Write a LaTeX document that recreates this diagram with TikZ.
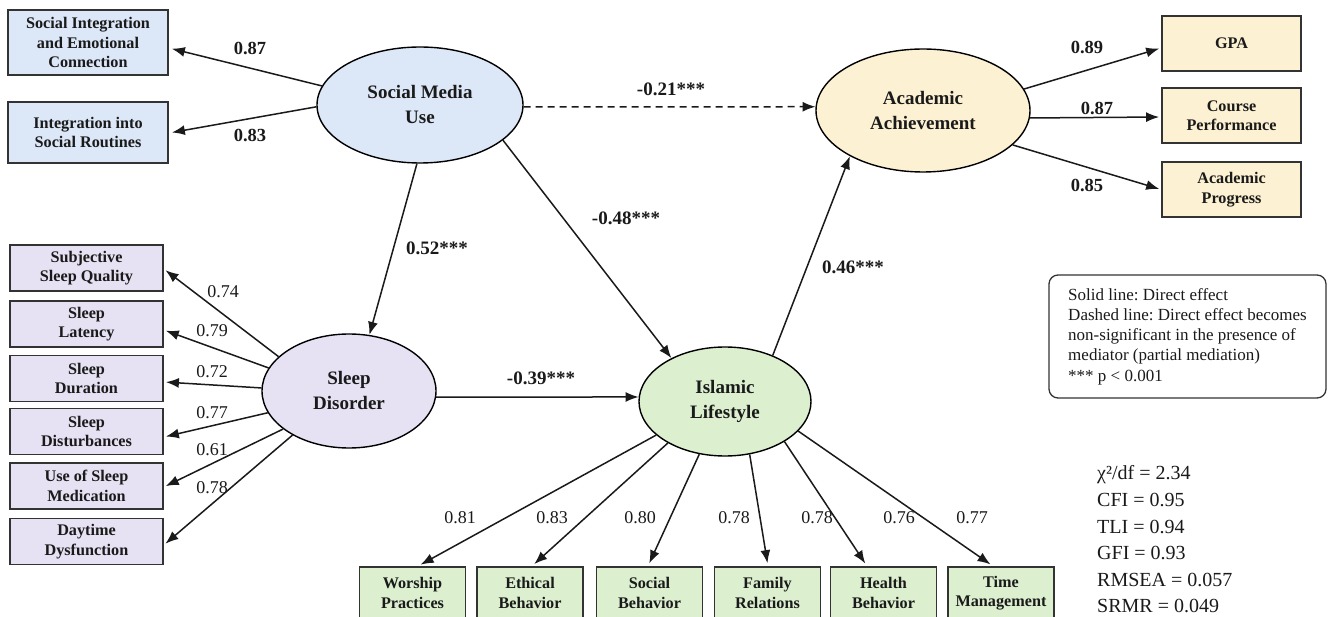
\documentclass[tikz,border=0pt]{standalone}
\usepackage{fontspec}
\setmainfont{Liberation Serif}
\usetikzlibrary{arrows.meta,shapes.geometric}
\frenchspacing
\newcommand\dgbox{\fontsize{16.2}{19.5}\selectfont\bfseries}
\newcommand\dglat{\fontsize{19}{25}\selectfont\bfseries}
\newcommand\dgpath{\fontsize{19}{22}\selectfont\bfseries}
\newcommand\dgloadb{\fontsize{18.5}{21}\selectfont\bfseries}
\newcommand\dgload{\fontsize{18}{21}\selectfont}
\newcommand\dgleg{\fontsize{17}{20.2}\selectfont}
\newcommand\dgfit{\fontsize{20}{26.6}\selectfont}
\definecolor{bluef}{HTML}{DCE7F7}
\definecolor{yellowf}{HTML}{FCF1D2}
\definecolor{purplef}{HTML}{E6E1F3}
\definecolor{greenf}{HTML}{DCF0D0}
\definecolor{boxline}{HTML}{333333}
\definecolor{inkc}{HTML}{1A1A1A}
\tikzset{
  obs/.style={draw=boxline, line width=1.8pt, align=center, font=\dgbox, inner sep=2pt, text=inkc},
  lat/.style={ellipse, draw=black, line width=1.4pt, align=center, font=\dglat, inner sep=0pt, text=inkc},
  arr/.style={-{Latex[length=13pt,width=10pt]}, line width=1.5pt, draw=inkc},
  lblb/.style={font=\dgloadb, inner sep=1pt, text=inkc},
  lbl/.style={font=\dgload, inner sep=1pt, text=inkc},
  plbl/.style={font=\dgpath, inner sep=1pt, text=inkc},
}
\begin{document}
\begin{tikzpicture}[x=1pt,y=-1pt]
\useasboundingbox (0,0) rectangle (1331,617);
\clip (0,0) rectangle (1331,617);
\fill[white] (0,0) rectangle (1331,617);

% latent variables
\node[lat, fill=bluef, minimum width=206pt, minimum height=116pt] (smu) at (420,105) {Social Media\\Use};
\node[lat, fill=yellowf, minimum width=214pt, minimum height=123pt] (aa) at (923,110.5) {Academic\\Achievement};
\node[lat, fill=purplef, minimum width=174pt, minimum height=114pt] (sd) at (349,391) {Sleep\\Disorder};
\node[lat, fill=greenf, minimum width=172pt, minimum height=109pt] (il) at (725,401.5) {Islamic\\Lifestyle};

% social media indicators
\node[obs, fill=bluef, minimum width=160pt, minimum height=65pt] (sie) at (88,42.5) {Social Integration\\and Emotional\\Connection};
\node[obs, fill=bluef, minimum width=160pt, minimum height=61pt] (isr) at (88,132.5) {Integration into\\Social Routines};

% academic indicators
\node[obs, fill=yellowf, minimum width=139pt, minimum height=55pt] (gpa) at (1231.5,43.5) {GPA};
\node[obs, fill=yellowf, minimum width=139pt, minimum height=55pt] (cp) at (1231.5,115.5) {Course\\Performance};
\node[obs, fill=yellowf, minimum width=139pt, minimum height=55pt] (ap) at (1231.5,189.5) {Academic\\Progress};

% sleep indicators
\node[obs, fill=purplef, minimum width=153pt, minimum height=46pt] (s1) at (86.5,268) {Subjective\\Sleep Quality};
\node[obs, fill=purplef, minimum width=153pt, minimum height=46pt] (s2) at (86.5,324) {Sleep\\Latency};
\node[obs, fill=purplef, minimum width=153pt, minimum height=46pt] (s3) at (86.5,378.5) {Sleep\\Duration};
\node[obs, fill=purplef, minimum width=153pt, minimum height=46pt] (s4) at (86.5,431.5) {Sleep\\Disturbances};
\node[obs, fill=purplef, minimum width=153pt, minimum height=46pt] (s5) at (86.5,486) {Use of Sleep\\Medication};
\node[obs, fill=purplef, minimum width=153pt, minimum height=46pt] (s6) at (86.5,541.5) {Daytime\\Dysfunction};

% islamic lifestyle indicators
\node[obs, fill=greenf, minimum width=106pt, minimum height=52pt] (b1) at (412.5,593) {Worship\\Practices};
\node[obs, fill=greenf, minimum width=106pt, minimum height=52pt] (b2) at (530,593) {Ethical\\Behavior};
\node[obs, fill=greenf, minimum width=106pt, minimum height=52pt] (b3) at (649.5,593) {Social\\Behavior};
\node[obs, fill=greenf, minimum width=106pt, minimum height=52pt] (b4) at (767.5,593) {Family\\Relations};
\node[obs, fill=greenf, minimum width=106pt, minimum height=52pt] (b5) at (883.5,593) {Health\\Behavior};
\node[obs, fill=greenf, minimum width=106pt, minimum height=52pt] (b6) at (1001,593) {Time\\Management};

% structural paths
\draw[arr, dash pattern=on 7pt off 5pt] (smu.-1) -- (aa.178.5);
\draw[arr] (smu.-93) -- (sd.70);
\draw[arr] (smu.-23) -- (il.141.5);
\draw[arr] (sd.-4) -- (il.177);
\draw[arr] (il.44.7) -- (aa.212);

% loadings
\draw[arr, shorten >=3pt] (smu.169) -- ([yshift=-5.5pt]sie.east);
\draw[arr, shorten >=3pt] (smu.181) -- ([yshift=-0.5pt]isr.east);
\draw[arr, shorten >=2pt] (aa.12.4) -- ([yshift=-4.5pt]gpa.west);
\draw[arr, shorten >=2pt] (aa.-4) -- ([yshift=-1.5pt]cp.west);
\draw[arr, shorten >=2pt] (aa.-21.5) -- (ap.west);
\draw[arr, shorten >=2pt] (sd.154.7) -- ([yshift=-1pt]s1.east);
\draw[arr, shorten >=2pt] (sd.164.1) -- ([yshift=-6pt]s2.east);
\draw[arr, shorten >=2pt] (sd.178) -- ([yshift=-3.5pt]s3.east);
\draw[arr, shorten >=2pt] (sd.-165) -- ([yshift=-5.5pt]s4.east);
\draw[arr, shorten >=2pt] (sd.-150.5) -- ([yshift=-1pt]s5.east);
\draw[arr, shorten >=2pt] (sd.-142) -- ([yshift=-3.5pt]s6.east);
\draw[arr, shorten >=3pt] (il.-154.7) -- ([xshift=5.5pt]b1.north);
\draw[arr, shorten >=3pt] (il.-144) -- ([xshift=2pt]b2.north);
\draw[arr, shorten >=3pt] (il.-116.8) -- ([xshift=-1.5pt]b3.north);
\draw[arr, shorten >=3pt] (il.-65.4) -- ([xshift=0.5pt]b4.north);
\draw[arr, shorten >=3pt] (il.-34.2) -- ([xshift=-16.5pt]b5.north);
\draw[arr, shorten >=3pt] (il.-22) -- ([xshift=-8pt]b6.north);

% path labels
\node[plbl] (p21) at (671,89) {-0.21***};
\node[plbl] (p52) at (437,248) {0.52***};
\node[plbl] (p48) at (626,218) {-0.48***};
\node[plbl] (p39) at (541,378) {-0.39***};
\node[plbl] (p46) at (853,267) {0.46***};

% loading labels
\node[lblb] (l1) at (250,48) {0.87};
\node[lblb] (l2) at (250,135) {0.83};
\node[lblb] (l3) at (1087,47) {0.89};
\node[lblb] (l4) at (1097,108) {0.87};
\node[lblb] (l5) at (1087,185) {0.85};
\node[lbl] (q1) at (223,292) {0.74};
\node[lbl] (q2) at (212,331) {0.79};
\node[lbl] (q3) at (212,372) {0.72};
\node[lbl] (q4) at (212,413) {0.77};
\node[lbl] (q5) at (212,450) {0.61};
\node[lbl] (q6) at (212,488) {0.78};
\node[lbl] (r1) at (460,518) {0.81};
\node[lbl] (r2) at (552,518) {0.83};
\node[lbl] (r3) at (640,518) {0.80};
\node[lbl] (r4) at (734,518) {0.78};
\node[lbl] (r5) at (817,518) {0.78};
\node[lbl] (r6) at (899,518) {0.76};
\node[lbl] (r7) at (972,518) {0.77};

% legend
\node[draw=boxline, line width=1.3pt, rounded corners=9pt, fill=white, minimum width=277pt, minimum height=123pt, align=left, font=\dgleg, text=inkc] (legend) at (1187.5,336.5) {Solid line: Direct effect\\Dashed line: Direct effect becomes\\non-significant in the presence of\\mediator (partial mediation)\\\relax *** p < 0.001};

% fit indices
\node[anchor=west, align=left, inner sep=0pt, font=\dgfit, text=inkc] (fit) at (1097,539.5) {χ²/df = 2.34\\CFI = 0.95\\TLI = 0.94\\GFI = 0.93\\RMSEA = 0.057\\SRMR = 0.049};
\end{tikzpicture}
\end{document}
